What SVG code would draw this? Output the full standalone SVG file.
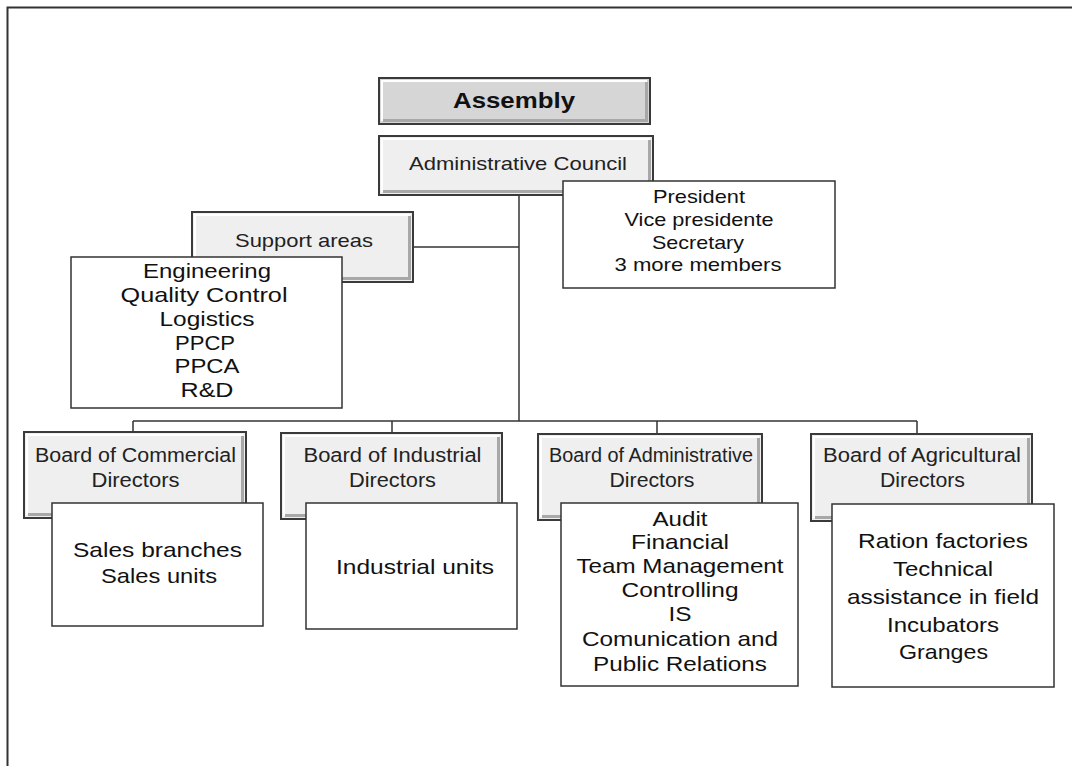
<svg xmlns="http://www.w3.org/2000/svg" width="1072" height="766" viewBox="0 0 1072 766">
<style>
text{font-family:"Liberation Sans",Arial,sans-serif;text-anchor:middle}
.t{fill:#111;font-size:21px}
.b{fill:#222;font-size:19.5px}
.p{fill:#111;font-size:19px}
.box{fill:#fff;stroke:#333;stroke-width:1.5}
.bev{fill:#efefef;stroke:#3a3a3a;stroke-width:2}
.bevd{fill:#d6d6d6;stroke:#3a3a3a;stroke-width:2}
.hl{fill:none;stroke:#fff;stroke-width:2}
.sh{fill:none;stroke:#a8a8a8;stroke-width:3}
.con{fill:none;stroke:#333;stroke-width:1.5}
</style>
<rect width="1072" height="766" fill="#fff"/>
<path d="M7.5 766 V7.5 H1072" fill="none" stroke="#333" stroke-width="2"/>
<g id="connectors">
<path class="con" d="M519 196 V421"/>
<path class="con" d="M413 247 H519"/>
<path class="con" d="M133 421 H917"/>
<path class="con" d="M133 421 V433 M392 421 V433 M657 421 V434 M917 421 V434"/>
</g>
<g id="assembly">
<rect class="bevd" x="379" y="78" width="271" height="46"/>
<path class="hl" d="M382 121 V81 H647"/>
<path class="sh" d="M383 120.5 H646.5 V82"/>
<text x="514" y="108" fill="#111" font-size="22" font-weight="bold" textLength="122" lengthAdjust="spacingAndGlyphs">Assembly</text>
</g>
<g id="council">
<rect class="bev" x="379" y="136" width="274" height="59"/>
<path class="hl" d="M382 192 V139 H650"/>
<path class="sh" d="M383 191.5 H649.5 V140"/>
<text x="518" y="170" fill="#222" font-size="19" textLength="218" lengthAdjust="spacingAndGlyphs">Administrative Council</text>
</g>
<g id="president">
<rect class="box" x="563" y="181" width="272" height="107"/>
<text class="p" x="699" y="203" textLength="92" lengthAdjust="spacingAndGlyphs">President</text>
<text class="p" x="699" y="226" textLength="149" lengthAdjust="spacingAndGlyphs">Vice presidente</text>
<text class="p" x="698" y="249" textLength="92" lengthAdjust="spacingAndGlyphs">Secretary</text>
<text class="p" x="698" y="271" textLength="167" lengthAdjust="spacingAndGlyphs">3 more members</text>
</g>
<g id="support">
<rect class="bev" x="192" y="212" width="221" height="70"/>
<path class="hl" d="M195 279 V215 H410"/>
<path class="sh" d="M196 278.5 H409.5 V216"/>
<text x="304" y="247" fill="#222" font-size="19" textLength="138" lengthAdjust="spacingAndGlyphs">Support areas</text>
</g>
<g id="support-list">
<rect class="box" x="71" y="257" width="271" height="151"/>
<text class="t" x="207" y="278" textLength="128" lengthAdjust="spacingAndGlyphs">Engineering</text>
<text class="t" x="204" y="302" textLength="167" lengthAdjust="spacingAndGlyphs">Quality Control</text>
<text class="t" x="207" y="326" textLength="95" lengthAdjust="spacingAndGlyphs">Logistics</text>
<text class="t" x="205" y="350" textLength="60" lengthAdjust="spacingAndGlyphs">PPCP</text>
<text class="t" x="207" y="373" textLength="65" lengthAdjust="spacingAndGlyphs">PPCA</text>
<text class="t" x="207" y="397" textLength="53" lengthAdjust="spacingAndGlyphs">R&amp;D</text>
</g>
<g id="board-commercial">
<rect class="bev" x="24" y="432" width="222" height="86"/>
<path class="hl" d="M27 515 V435 H243"/>
<path class="sh" d="M28 514.5 H242.5 V436"/>
<text class="b" x="135.5" y="462" textLength="201" lengthAdjust="spacingAndGlyphs">Board of Commercial</text>
<text class="b" x="135.5" y="487" textLength="88" lengthAdjust="spacingAndGlyphs">Directors</text>
</g>
<g id="board-industrial">
<rect class="bev" x="281" y="433" width="221" height="86"/>
<path class="hl" d="M284 516 V436 H499"/>
<path class="sh" d="M285 515.5 H498.5 V437"/>
<text class="b" x="392.5" y="462" textLength="178" lengthAdjust="spacingAndGlyphs">Board of Industrial</text>
<text class="b" x="392.5" y="487" textLength="87" lengthAdjust="spacingAndGlyphs">Directors</text>
</g>
<g id="board-administrative">
<rect class="bev" x="538" y="434" width="224" height="86"/>
<path class="hl" d="M541 517 V437 H759"/>
<path class="sh" d="M542 516.5 H758.5 V438"/>
<text class="b" x="651" y="462" textLength="204" lengthAdjust="spacingAndGlyphs">Board of Administrative</text>
<text class="b" x="652" y="487" textLength="85" lengthAdjust="spacingAndGlyphs">Directors</text>
</g>
<g id="board-agricultural">
<rect class="bev" x="811" y="434" width="221" height="87"/>
<path class="hl" d="M814 518 V437 H1029"/>
<path class="sh" d="M815 517.5 H1028.5 V438"/>
<text class="b" x="922" y="462" textLength="198" lengthAdjust="spacingAndGlyphs">Board of Agricultural</text>
<text class="b" x="922.5" y="487" textLength="85" lengthAdjust="spacingAndGlyphs">Directors</text>
</g>
<g id="commercial-units">
<rect class="box" x="52" y="503" width="211" height="123"/>
<text class="t" x="157.5" y="557" textLength="169" lengthAdjust="spacingAndGlyphs">Sales branches</text>
<text class="t" x="159" y="583" textLength="116" lengthAdjust="spacingAndGlyphs">Sales units</text>
</g>
<g id="industrial-units">
<rect class="box" x="306" y="503" width="211" height="126"/>
<text class="t" x="415" y="574" textLength="158" lengthAdjust="spacingAndGlyphs">Industrial units</text>
</g>
<g id="administrative-units">
<rect class="box" x="561" y="503" width="237" height="183"/>
<text class="t" x="680" y="526" textLength="55" lengthAdjust="spacingAndGlyphs">Audit</text>
<text class="t" x="680" y="549" textLength="98" lengthAdjust="spacingAndGlyphs">Financial</text>
<text class="t" x="680" y="573" textLength="207" lengthAdjust="spacingAndGlyphs">Team Management</text>
<text class="t" x="680" y="597" textLength="117" lengthAdjust="spacingAndGlyphs">Controlling</text>
<text class="t" x="680" y="621" textLength="23" lengthAdjust="spacingAndGlyphs">IS</text>
<text class="t" x="680" y="646" textLength="196" lengthAdjust="spacingAndGlyphs">Comunication and</text>
<text class="t" x="680" y="671" textLength="174" lengthAdjust="spacingAndGlyphs">Public Relations</text>
</g>
<g id="agricultural-units">
<rect class="box" x="832" y="504" width="222" height="183"/>
<text class="t" x="943" y="548" textLength="170" lengthAdjust="spacingAndGlyphs">Ration factories</text>
<text class="t" x="943" y="576" textLength="100" lengthAdjust="spacingAndGlyphs">Technical</text>
<text class="t" x="943" y="604" textLength="192" lengthAdjust="spacingAndGlyphs">assistance in field</text>
<text class="t" x="943" y="632" textLength="112" lengthAdjust="spacingAndGlyphs">Incubators</text>
<text class="t" x="943.5" y="659" textLength="89" lengthAdjust="spacingAndGlyphs">Granges</text>
</g>
</svg>
